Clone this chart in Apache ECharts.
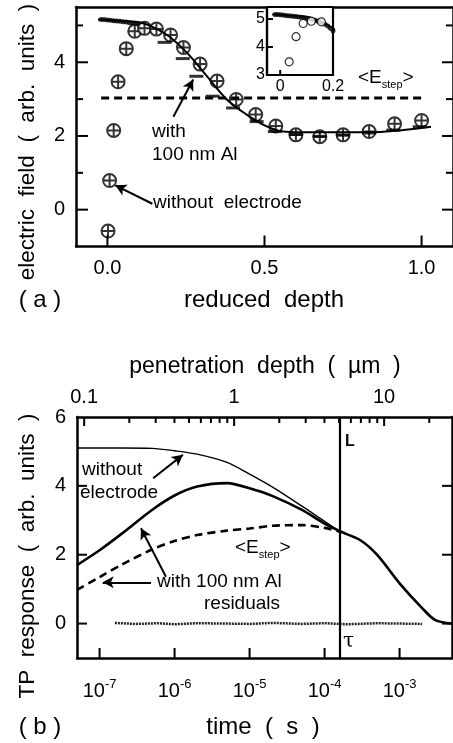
<!DOCTYPE html>
<html><head><meta charset="utf-8">
<script src="https://cdn.jsdelivr.net/npm/echarts@6/dist/echarts.min.js"></script>
<style>html,body{margin:0;padding:0;background:#fff}#c{width:453px;height:743px}</style>
</head><body><div id="c"></div>
<script>
// ---------- Panel (a): electric field vs reduced depth ----------
const noElecX = [0.002, 0.007, 0.02, 0.034, 0.06, 0.087, 0.118, 0.156, 0.201, 0.242, 0.295, 0.349, 0.41, 0.472, 0.536, 0.6, 0.676, 0.75, 0.833, 0.914, 1.0];
const noElecY = [-0.58, 0.79, 2.15, 3.47, 4.37, 4.84, 4.92, 4.90, 4.74, 4.40, 3.95, 3.49, 2.99, 2.58, 2.27, 2.03, 1.98, 2.03, 2.12, 2.33, 2.42];
const alDenseX = [-0.02, -0.01, 0, 0.01, 0.02, 0.03, 0.04, 0.05, 0.06, 0.07, 0.08, 0.09, 0.10, 0.11, 0.12, 0.13, 0.14, 0.15, 0.16, 0.17, 0.18, 0.19, 0.20];
const alDenseY = [5.16, 5.16, 5.15, 5.14, 5.13, 5.12, 5.11, 5.10, 5.09, 5.07, 5.06, 5.04, 5.03, 5.01, 4.99, 4.96, 4.93, 4.90, 4.86, 4.81, 4.75, 4.67, 4.58];
const alStepX = [0.182, 0.24, 0.283, 0.335, 0.40, 0.475, 0.533, 0.6, 0.676, 0.75, 0.833, 0.91, 0.994];
const alStepY = [4.54, 4.10, 3.62, 3.08, 2.76, 2.39, 2.12, 2.04, 1.99, 2.02, 2.08, 2.16, 2.25];
const fitX = [-0.03, 0.05, 0.105, 0.158, 0.2, 0.253, 0.316, 0.38, 0.443, 0.507, 0.56, 0.613, 0.72, 0.824, 0.93, 1.03];
const fitY = [5.16, 5.12, 5.08, 4.90, 4.68, 4.26, 3.63, 2.99, 2.58, 2.26, 2.12, 2.10, 2.10, 2.10, 2.15, 2.25];
const eStepAX = [-0.02, 1.0];
const eStepAY = [3.03, 3.03];
const aYTicks = [0, 2, 4];
const aYMinor = [1, 3, 5];
const aXTicks = [0, 0.5, 1.0];
const insetXTicks = [0, 0.2];
const insetYTicks = [3, 4, 5];

// ---------- Panel (b): TP response vs time ----------
const times = [5e-8, 1e-7, 2e-7, 5e-7, 1e-6, 2e-6, 5e-6, 1e-5, 2e-5, 5e-5, 1e-4, 1.6e-4, 3e-4, 5e-4, 1e-3, 2e-3, 3e-3, 5e-3];
const respNoElec = [5.10, 5.10, 5.10, 5.09, 5.02, 4.92, 4.68, 4.34, 3.97, 3.41, 2.97, 2.68, 2.42, 2.00, 1.17, 0.45, 0.10, 0.0];
const respAl =     [1.70, 2.13, 2.62, 3.30, 3.72, 3.98, 4.08, 3.93, 3.71, 3.30, 2.90, 2.68, 2.42, 2.00, 1.17, 0.45, 0.10, 0.0];
const eStepTimes = [5e-8, 1e-7, 2e-7, 5e-7, 1e-6, 2e-6, 5e-6, 1e-5, 2e-5, 5e-5, 1e-4, 1.6e-4];
const eStepResp =  [0.98, 1.35, 1.72, 2.15, 2.40, 2.57, 2.70, 2.76, 2.84, 2.86, 2.78, 2.67];
const residTimes = [1.6e-7, 3e-7, 6e-7, 1e-6, 2e-6, 5e-6, 1e-5, 2e-5, 5e-5, 1e-4, 2e-4, 5e-4, 1e-3, 2e-3];
const residVals =  [0.02, -0.01, 0.01, -0.02, 0.01, 0.0, -0.01, 0.02, -0.01, 0.01, -0.02, 0.01, 0.0, -0.01];
const tau = 1.6e-4;
const bXTicks = [1e-7, 1e-6, 1e-5, 1e-4, 1e-3];
const bYTicks = [0, 2, 4];
const bYLabels = [0, 2, 4, 6];
const depthMajor = [0.1, 1, 10];
const depthMinor = [0.2, 0.3, 0.4, 0.5, 0.6, 0.7, 0.8, 0.9, 2, 3, 4, 5, 6, 7, 8, 9, 20];

// axis ranges
const A_X = [-0.1, 1.1], A_Y = [-1, 5.5];
const I_X = [-0.05, 0.2], I_Y = [3, 5.43];
const B_T = [5e-8, 5e-3], B_Y = [-1, 6], B_D = [0.0896, 28.35];

const zip = (a, b) => a.map((v, i) => [v, b[i]]);
const FONT = '"Liberation Sans", Arial, Helvetica, sans-serif';
const BLK = '#000';
const noEmph = { disabled: true };

function baseAxis(opts, lw) {
  return Object.assign({
    axisLine: { show: true, onZero: false, lineStyle: { color: BLK, width: lw || 2.5 } },
    splitLine: { show: false },
    axisTick: { show: false },
    axisLabel: { show: false }
  }, opts);
}
function labels(values, size, margin, formatter) {
  const o = { show: true, customValues: values, fontSize: size, fontFamily: FONT, color: BLK, margin: margin };
  if (formatter) o.formatter = formatter;
  return o;
}
// tick marks drawn through the axes' own scales (dir: 0 right, 1 left, 2 up, 3 down)
function tickItems(values, fixed, onY, dir, len) {
  return values.map(v => onY ? [fixed, v, dir, len] : [v, fixed, dir, len]);
}
function tickSeries(xIdx, yIdx, items, z) {
  return {
    type: 'custom', xAxisIndex: xIdx, yAxisIndex: yIdx, silent: true, z: z || 3,
    dimensions: ['x', 'y', 'd', 'l'], encode: { x: 0, y: 1 },
    data: items,
    renderItem: (params, api) => {
      const p = api.coord([api.value(0), api.value(1)]);
      const d = api.value(2), L = api.value(3);
      const dx = d === 0 ? L : (d === 1 ? -L : 0);
      const dy = d === 2 ? -L : (d === 3 ? L : 0);
      return { type: 'line', shape: { x1: p[0], y1: p[1], x2: p[0] + dx, y2: p[1] + dy }, style: { stroke: BLK, lineWidth: 2 } };
    }
  };
}
function arrow(from, to) {
  return [{ coord: from, symbol: 'none' }, { coord: to, symbol: 'arrow' }];
}
function arrowMarkLine(list) {
  return {
    silent: true, animation: false, symbolSize: [9, 11],
    label: { show: false },
    lineStyle: { color: BLK, width: 2, type: 'solid' },
    emphasis: noEmph,
    data: list.map(p => arrow(p[0], p[1]))
  };
}

const chart = echarts.init(document.getElementById('c'), null, { renderer: 'canvas' });

const crossSym = 'path://M0,-10A10,10,0,1,1,0,10A10,10,0,1,1,0,-10ZM0,-10L0,10M-10,0L10,0';
const txt = (x, y, text, font, align, extra) => ({
  type: 'text', x: x, y: y,
  style: Object.assign({ text: text, font: font, fill: BLK, align: align, verticalAlign: 'middle', textAlign: align, textVerticalAlign: 'middle' }, extra || {})
});
const subRich = { n: { font: '19px ' + FONT, fill: BLK }, s: { font: '11px ' + FONT, fill: BLK, padding: [14, 0, 0, 0] } };

const option = {
  animation: false,
  backgroundColor: '#fff',
  grid: [
    { left: 76, top: 7, width: 378, height: 239.5, show: false },
    { left: 267, top: 7, width: 66, height: 68, show: true, borderColor: BLK, borderWidth: 2.2, backgroundColor: '#fff', z: 5 },
    { left: 77, top: 417, width: 375, height: 241, show: false }
  ],
  xAxis: [
    baseAxis({ gridIndex: 0, type: 'value', min: A_X[0], max: A_X[1], position: 'bottom',
      axisLabel: labels(aXTicks, 20, 12, v => v.toFixed(1)) }),
    baseAxis({ gridIndex: 0, type: 'value', min: A_X[0], max: A_X[1], position: 'top' }),
    baseAxis({ gridIndex: 1, type: 'value', min: I_X[0], max: I_X[1], position: 'bottom', z: 6,
      axisLabel: labels(insetXTicks, 16, 4, v => (v === 0 ? '0' : String(v))) }, 2.2),
    baseAxis({ gridIndex: 2, type: 'log', logBase: 10, min: B_T[0], max: B_T[1], position: 'bottom',
      axisLabel: Object.assign(labels(bXTicks, 20, 20, v => '{b|10}{s|' + Math.round(Math.log10(v)) + '}'), {
        rich: {
          b: { fontSize: 20, fontFamily: FONT, color: BLK },
          s: { fontSize: 13, fontFamily: FONT, color: BLK, padding: [0, 0, 14, 0] }
        }
      }) }),
    baseAxis({ gridIndex: 2, type: 'log', logBase: 10, min: B_D[0], max: B_D[1], position: 'top',
      axisLabel: labels(depthMajor, 20, 10, v => String(Number(v.toPrecision(3)))) })
  ],
  yAxis: [
    baseAxis({ gridIndex: 0, type: 'value', min: A_Y[0], max: A_Y[1], position: 'left', axisLabel: labels(aYTicks, 20, 11) }),
    baseAxis({ gridIndex: 0, type: 'value', min: A_Y[0], max: A_Y[1], position: 'right' }),
    baseAxis({ gridIndex: 1, type: 'value', min: I_Y[0], max: I_Y[1], position: 'left', z: 6,
      axisLabel: labels(insetYTicks, 16, 2) }, 2.2),
    baseAxis({ gridIndex: 2, type: 'value', min: B_Y[0], max: B_Y[1], position: 'left', axisLabel: labels(bYLabels, 20, 11) }),
    baseAxis({ gridIndex: 2, type: 'value', min: B_Y[0], max: B_Y[1], position: 'right' })
  ],
  series: [
    // ---- panel (a)
    { type: 'line', xAxisIndex: 0, yAxisIndex: 0, data: zip(eStepAX, eStepAY), symbol: 'none',
      lineStyle: { color: BLK, width: 2.8, type: [8, 5] }, emphasis: noEmph,
      markLine: arrowMarkLine([[[0.21, 2.52], [0.273, 3.53]], [[0.143, 0.16], [0.025, 0.66]]]) },
    { type: 'line', xAxisIndex: 0, yAxisIndex: 0, data: zip(fitX, fitY), symbol: 'none', smooth: 0.35,
      lineStyle: { color: BLK, width: 2 }, emphasis: noEmph },
    { type: 'scatter', xAxisIndex: 0, yAxisIndex: 0, data: zip(alDenseX, alDenseY).filter(p => p[0] <= 0.1),
      symbol: 'circle', symbolSize: 5, itemStyle: { color: BLK }, emphasis: noEmph },
    { type: 'scatter', xAxisIndex: 0, yAxisIndex: 0, data: zip(noElecX, noElecY), symbol: crossSym, symbolSize: 13,
      itemStyle: { color: '#fff', borderColor: BLK, borderWidth: 2 }, emphasis: noEmph },
    { type: 'scatter', xAxisIndex: 0, yAxisIndex: 0, data: zip(alStepX, alStepY), symbol: 'rect', symbolSize: [14, 3],
      itemStyle: { color: BLK }, emphasis: noEmph },
    tickSeries(0, 0, [].concat(
      tickItems(aYTicks, A_X[0], true, 0, 12), tickItems(aYMinor, A_X[0], true, 0, 7),
      tickItems(aYTicks, A_X[1], true, 1, 11), tickItems(aYMinor, A_X[1], true, 1, 7),
      tickItems(aXTicks, A_Y[0], false, 2, 11))),
    // ---- inset
    { type: 'line', xAxisIndex: 2, yAxisIndex: 2, data: zip(fitX, fitY), symbol: 'none', smooth: 0.35, z: 7,
      lineStyle: { color: BLK, width: 1.5 }, emphasis: noEmph },
    { type: 'scatter', xAxisIndex: 2, yAxisIndex: 2, data: zip(alDenseX, alDenseY), symbol: 'circle', symbolSize: 5, z: 7,
      itemStyle: { color: BLK }, emphasis: noEmph },
    { type: 'scatter', xAxisIndex: 2, yAxisIndex: 2, data: zip(noElecX, noElecY), symbol: 'circle', symbolSize: 8, z: 7,
      itemStyle: { color: '#fff', borderColor: BLK, borderWidth: 1.2 }, emphasis: noEmph },
    tickSeries(2, 2, [].concat(tickItems(insetYTicks, I_X[0], true, 0, 6), tickItems(insetXTicks, I_Y[0], false, 2, 5)), 8),
    // ---- panel (b)
    { type: 'line', xAxisIndex: 3, yAxisIndex: 3, data: zip(residTimes, residVals), symbol: 'none',
      lineStyle: { color: '#222', width: 2.5, type: [2, 1] }, emphasis: noEmph },
    { type: 'line', xAxisIndex: 3, yAxisIndex: 3, data: zip(eStepTimes, eStepResp), symbol: 'none', smooth: 0.3,
      lineStyle: { color: BLK, width: 2.6, type: [8, 5] }, emphasis: noEmph },
    { type: 'line', xAxisIndex: 3, yAxisIndex: 3, data: zip(times, respNoElec), symbol: 'none', smooth: 0.3,
      lineStyle: { color: BLK, width: 1.4 }, emphasis: noEmph },
    { type: 'line', xAxisIndex: 3, yAxisIndex: 3, data: zip(times, respAl), symbol: 'none', smooth: 0.3,
      lineStyle: { color: BLK, width: 2.6 }, emphasis: noEmph },
    { type: 'line', xAxisIndex: 3, yAxisIndex: 3, data: [], symbol: 'none',
      markLine: {
        silent: true, animation: false, symbol: 'none', label: { show: false }, emphasis: noEmph,
        lineStyle: { color: BLK, width: 2.2, type: 'solid' },
        data: [[{ coord: [tau, B_Y[0]] }, { coord: [tau, B_Y[1]] }]]
      } },
    { type: 'line', xAxisIndex: 3, yAxisIndex: 3, data: [], symbol: 'none',
      markLine: arrowMarkLine([
        [[5.18e-7, 4.22], [1.29e-6, 4.90]],
        [[7.67e-7, 1.36], [3.56e-7, 2.77]],
        [[4.84e-7, 1.20], [1.10e-7, 1.20]]
      ]) },
    tickSeries(3, 3, [].concat(
      tickItems(bYTicks, B_T[0], true, 0, 10), tickItems(bYTicks, B_T[1], true, 1, 10),
      tickItems(bXTicks, B_Y[0], false, 2, 10))),
    tickSeries(4, 3, [].concat(tickItems(depthMajor, B_Y[1], false, 3, 9), tickItems(depthMinor, B_Y[1], false, 3, 6)))
  ],
  graphic: [
    Object.assign(txt(28, 142, 'electric  field  (  arb.  units  )', '22.5px ' + FONT, 'center'), { rotation: Math.PI / 2 }),
    txt(264, 300, 'reduced  depth', '24px ' + FONT, 'center'),
    txt(40, 300, '( a )', '24px ' + FONT, 'center'),
    Object.assign(txt(28, 556, 'TP  response  (  arb.  units  )', '22.5px ' + FONT, 'center'), { rotation: Math.PI / 2 }),
    txt(265, 367, 'penetration  depth  (  µm  )', '23px ' + FONT, 'center'),
    txt(263, 727, 'time  (  s  )', '24px ' + FONT, 'center'),
    txt(40, 727, '( b )', '24px ' + FONT, 'center'),
    txt(152, 132, 'with', '19px ' + FONT, 'left'),
    txt(152, 155, '100 nm Al', '19px ' + FONT, 'left'),
    txt(153, 203, 'without  electrode', '19px ' + FONT, 'left'),
    txt(358, 78, '{n|<E}{s|step}{n|>}', '19px ' + FONT, 'left', { rich: subRich }),
    txt(82, 470, 'without', '19px ' + FONT, 'left'),
    txt(80, 493, 'electrode', '19px ' + FONT, 'left'),
    txt(235, 548, '{n|<E}{s|step}{n|>}', '19px ' + FONT, 'left', { rich: subRich }),
    txt(157, 582, 'with 100 nm Al', '19px ' + FONT, 'left'),
    txt(242, 604, 'residuals', '19px ' + FONT, 'center'),
    txt(345, 442, 'L', 'bold 16px ' + FONT, 'left'),
    txt(343, 642, 'τ', '20px "DejaVu Serif", serif', 'left')
  ]
};
chart.setOption(option);
</script>
</body></html>
